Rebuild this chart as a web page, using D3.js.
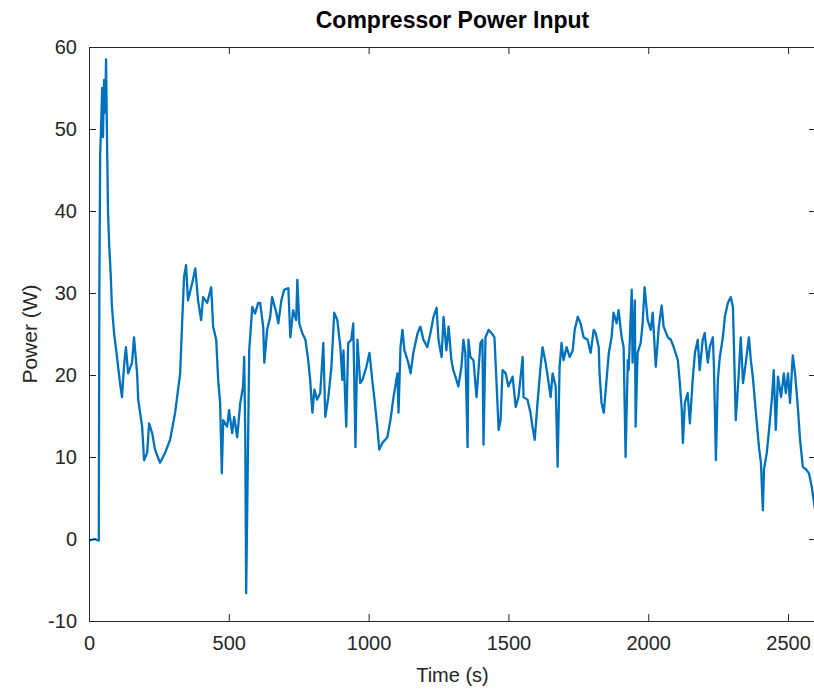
<!DOCTYPE html>
<html>
<head>
<meta charset="utf-8">
<script src="https://cdn.jsdelivr.net/npm/d3@7"></script>
<style>
  body { margin: 0; background: #fff; }
  svg { display: block; font-family: "Liberation Sans", Arial, Helvetica, sans-serif; }
</style>
</head>
<body>
<div id="chart"></div>
<script>
// values
const timeS = [0, 20, 35, 37, 40, 43, 47, 50, 54, 58, 61, 64, 68, 72, 78, 82, 90, 100, 111, 118,
  125, 132, 140, 154, 161, 172, 176, 190, 197, 208, 215, 226, 236, 254, 272, 290, 308, 326, 333, 340,
  347, 354, 369, 380, 390, 401, 408, 423, 437, 444, 455, 462, 469, 475, 480, 494, 501, 512, 519, 530,
  541, 551, 555, 559, 562, 566, 573, 584, 594, 605, 612, 623, 627, 637, 648, 655, 670, 677, 688, 698,
  713, 720, 730, 741, 745, 752, 763, 774, 784, 791, 799, 806, 816, 827, 838, 845, 856, 867, 877, 888,
  899, 906, 910, 920, 927, 938, 945, 953, 960, 970, 978, 992, 1003, 1013, 1021, 1031, 1038, 1049, 1067, 1078,
  1089, 1103, 1107, 1114, 1121, 1128, 1142, 1150, 1160, 1175, 1185, 1196, 1210, 1221, 1232, 1243, 1250, 1261, 1268, 1278,
  1286, 1296, 1303, 1314, 1321, 1332, 1339, 1346, 1354, 1357, 1364, 1375, 1386, 1393, 1400, 1407, 1411, 1418, 1429, 1440,
  1450, 1457, 1465, 1472, 1479, 1490, 1500, 1515, 1526, 1536, 1551, 1554, 1568, 1579, 1586, 1594, 1604, 1615, 1622, 1633,
  1644, 1651, 1658, 1669, 1676, 1683, 1690, 1697, 1708, 1719, 1730, 1737, 1748, 1758, 1769, 1783, 1794, 1805, 1812, 1823,
  1826, 1833, 1841, 1851, 1859, 1869, 1876, 1887, 1894, 1905, 1912, 1919, 1927, 1930, 1941, 1944, 1952, 1955, 1962, 1973,
  1980, 1987, 1998, 2009, 2016, 2027, 2038, 2048, 2055, 2070, 2081, 2091, 2106, 2113, 2120, 2124, 2131, 2141, 2149, 2159,
  2167, 2177, 2184, 2195, 2202, 2213, 2220, 2231, 2235, 2242, 2249, 2256, 2267, 2274, 2285, 2295, 2303, 2306, 2313, 2321,
  2331, 2339, 2349, 2360, 2367, 2374, 2385, 2396, 2403, 2410, 2414, 2424, 2432, 2442, 2449, 2456, 2464, 2475, 2485, 2492,
  2500, 2507, 2517, 2525, 2535, 2543, 2553, 2564, 2575, 2585, 2593, 2600];

const powerW = [-0.2, 0, -0.2, 30, 47, 50, 55, 49, 56, 52, 58.5, 50, 40, 36, 32, 28.3, 25, 22.2, 19, 17.3,
  21, 23.4, 20.2, 21.5, 24.6, 20.2, 17, 13.7, 9.6, 10.5, 14.1, 12.9, 10.9, 9.3, 10.5, 12.1, 15.4, 20.2, 26.3, 32,
  33.4, 29.1, 31.2, 33, 29.1, 26.7, 29.5, 28.8, 30.7, 25.9, 24.3, 19.4, 16.6, 8, 14.5, 13.7, 15.7, 12.9, 14.9, 12.4,
  16.6, 18.6, 22.2, 12.1, -6.6, 3.9, 23, 28.3, 27.5, 28.8, 28.8, 25.9, 21.5, 25.5, 27.1, 29.5, 27.6, 26.3, 29.1, 30.4,
  30.6, 24.6, 27.9, 26.7, 31.6, 26.3, 25.1, 24.3, 21.8, 19.4, 15.4, 18.2, 17, 17.8, 23.9, 14.9, 17.3, 21, 27.6, 26.7,
  23.4, 19.4, 23, 13.7, 23.9, 24.3, 26.3, 11.2, 24.3, 19, 19.4, 21, 22.7, 19.4, 17, 13.7, 10.9, 11.7, 12.4, 14.5,
  17.3, 20.2, 15.4, 23.4, 25.5, 23, 21.5, 20.2, 22.7, 25.1, 25.9, 24.3, 23.4, 25.1, 27.1, 28.2, 24.3, 22.2, 27.1, 23,
  25.9, 21.8, 20.6, 19.4, 18.6, 21, 24.3, 22.7, 11.2, 24.3, 22.2, 21.8, 17.3, 20.6, 23.9, 24.3, 11.5, 24.6, 25.5, 25.1,
  24.6, 19.4, 13.3, 14.5, 20.6, 20.2, 18.6, 19.8, 16.1, 17.3, 22.2, 17.3, 17, 15.4, 13.7, 12.1, 16.6, 21, 23.4, 21.5,
  19, 17.3, 20.2, 18.6, 8.8, 21, 23.9, 21.8, 23.4, 22.2, 23, 25.5, 27.1, 26.3, 24.6, 24.3, 22.7, 25.5, 25.1, 23.4,
  20.2, 16.6, 15.4, 19.4, 22.7, 24.6, 27.6, 26.3, 27.9, 24.6, 23.4, 10, 21.8, 20.6, 30.4, 21.5, 29.1, 13.7, 22.7, 23.9,
  26.3, 30.7, 26.7, 25.5, 27.6, 21, 25.9, 28.5, 25.9, 24.6, 24.3, 23.4, 21.8, 19, 15.7, 11.7, 16.6, 17.8, 14.1, 19.4,
  22.7, 24.3, 20.6, 24.3, 25.1, 21.5, 23.4, 24.6, 21, 9.6, 19.4, 22.2, 24.6, 27.1, 28.8, 29.5, 28.3, 24.3, 14.5, 18.6,
  24.6, 19, 21.5, 24.6, 21.8, 19.8, 15.4, 11.2, 9.3, 3.5, 8.5, 10.5, 13.3, 17, 20.6, 13.3, 19.8, 17.3, 20.2, 17.8,
  20.2, 16.6, 22.4, 20.2, 16.1, 12.1, 8.8, 8.5, 8, 6.3, 4.4, 3];

const xTicks = [0, 500, 1000, 1500, 2000, 2500];
const yTicks = [-10, 0, 10, 20, 30, 40, 50, 60];
const titleText = "Compressor Power Input";
const xLabel = "Time (s)";
const yLabel = "Power (W)";

const width = 814, height = 693;
const plot = {left: 89, right: 816, top: 47, bottom: 621};
const axisColor = "#262626";
const lineColor = "#0072BD";

const svg = d3.select("#chart").append("svg")
    .attr("width", width)
    .attr("height", height);

const x = d3.scaleLinear()
    .domain([0, 2600])
    .range([plot.left, plot.right]);

const y = d3.scaleLinear()
    .domain([-10, 60])
    .range([plot.bottom, plot.top]);

const data = d3.range(timeS.length).map(i => ({t: timeS[i], p: powerW[i]}));

// the series
svg.append("path")
    .datum(data)
    .attr("fill", "none")
    .attr("stroke", lineColor)
    .attr("stroke-width", 2.3)
    .attr("stroke-linejoin", "round")
    .attr("d", d3.line().x(d => x(d.t)).y(d => y(d.p)));

// box with inward ticks on all four sides
const tickLen = 7;
const fmt = d => String(d);
const styleAxis = g => {
  g.select(".domain").attr("stroke", axisColor);
  g.selectAll(".tick line").attr("stroke", axisColor);
  g.selectAll(".tick text").attr("fill", axisColor).attr("font-size", 20);
};

svg.append("g")
    .attr("transform", `translate(0,${plot.bottom})`)
    .call(d3.axisBottom(x).tickValues(xTicks).tickSizeInner(-tickLen).tickSizeOuter(0).tickPadding(15).tickFormat(fmt))
    .call(styleAxis);

svg.append("g")
    .attr("transform", `translate(0,${plot.top})`)
    .call(d3.axisTop(x).tickValues(xTicks).tickSizeInner(-tickLen).tickSizeOuter(0).tickFormat(""))
    .call(styleAxis);

svg.append("g")
    .attr("transform", `translate(${plot.left},0)`)
    .call(d3.axisLeft(y).tickValues(yTicks).tickSizeInner(-tickLen).tickSizeOuter(0).tickPadding(12).tickFormat(fmt))
    .call(styleAxis);

svg.append("g")
    .attr("transform", `translate(${plot.right},0)`)
    .call(d3.axisRight(y).tickValues(yTicks).tickSizeInner(-tickLen).tickSizeOuter(0).tickFormat(""))
    .call(styleAxis);

// title and axis labels
svg.append("text")
    .attr("x", (plot.left + plot.right) / 2)
    .attr("y", 28)
    .attr("text-anchor", "middle")
    .attr("font-size", 23)
    .attr("font-weight", "bold")
    .attr("fill", "#000")
    .text(titleText);

svg.append("text")
    .attr("x", (plot.left + plot.right) / 2)
    .attr("y", 682)
    .attr("text-anchor", "middle")
    .attr("font-size", 20)
    .attr("fill", axisColor)
    .text(xLabel);

svg.append("text")
    .attr("transform", `translate(37,${(plot.top + plot.bottom) / 2}) rotate(-90)`)
    .attr("text-anchor", "middle")
    .attr("font-size", 21)
    .attr("fill", axisColor)
    .text(yLabel);
</script>
</body>
</html>
